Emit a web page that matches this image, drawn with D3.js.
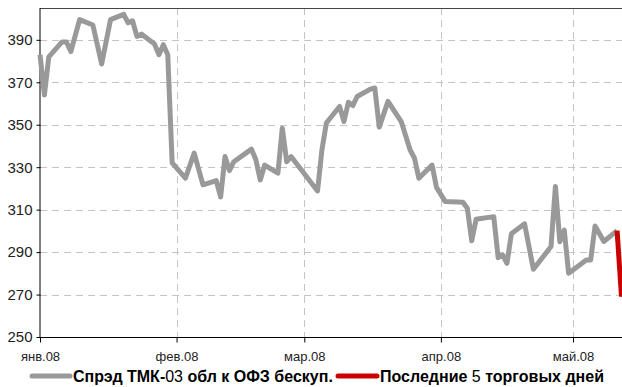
<!DOCTYPE html>
<html><head><meta charset="utf-8">
<script src="https://cdn.jsdelivr.net/npm/d3@7"></script>
<style>
body{margin:0;background:#fff;}
svg{display:block;}
text{font-family:"Liberation Sans Narrow","Arial Narrow","Liberation Sans",sans-serif;}
</style></head>
<body>
<svg id="chart" width="622" height="387"></svg>
<script>
const spreadDates = ["2008-01-01","2008-01-02","2008-01-03","2008-01-06","2008-01-07","2008-01-08","2008-01-10","2008-01-13","2008-01-15","2008-01-17","2008-01-20","2008-01-21","2008-01-22","2008-01-23","2008-01-24","2008-01-27","2008-01-28","2008-01-29","2008-01-30","2008-01-31","2008-02-03","2008-02-05","2008-02-07","2008-02-10","2008-02-11","2008-02-12","2008-02-13","2008-02-14","2008-02-18","2008-02-19","2008-02-20","2008-02-21","2008-02-24","2008-02-25","2008-02-26","2008-02-27","2008-03-04","2008-03-05","2008-03-06","2008-03-09","2008-03-10","2008-03-11","2008-03-12","2008-03-13","2008-03-16","2008-03-17","2008-03-18","2008-03-20","2008-03-23","2008-03-25","2008-03-26","2008-03-27","2008-03-30","2008-03-31","2008-04-02","2008-04-06","2008-04-07","2008-04-08","2008-04-09","2008-04-13","2008-04-14","2008-04-15","2008-04-16","2008-04-17","2008-04-20","2008-04-22","2008-04-26","2008-04-27","2008-04-28","2008-04-29","2008-04-30","2008-05-04","2008-05-05","2008-05-06","2008-05-08","2008-05-11"];
const spreadValues = [383,364,382,389,389,384.5,399.5,397,378.6,399.5,402,398,399,391.6,392.7,388,383,387.7,383,332,324.8,336.6,321.7,323.7,316,335,328.4,332.6,338.5,333.5,324,331,327.2,348.4,332.6,335,318.8,338.2,350.8,358.6,351.5,360.6,359,363.3,366.8,367.3,348.9,361,351.5,338.2,334.3,324.8,331,320.5,313.8,313.5,310.7,295.3,305.5,306.7,287.4,288.7,284.7,298.6,303.3,281.9,292.6,320.9,294.9,300.4,280,286.3,286.3,302.3,295,300.1];
const lastDates = ["2008-05-11","2008-05-12"];
const lastValues = [300.1,269];
const yTicks = [250,270,290,310,330,350,370,390];
const monthTicks = ["2008-01-01","2008-02-01","2008-03-01","2008-04-01","2008-05-01"];
const monthLabels = ["янв.08","фев.08","мар.08","апр.08","май.08"];
const legendLabels = [["Спрэд ТМК-","03"," обл к ОФЗ бескуп."],["Последние ","5"," торговых дней"]];

const parse = d3.utcParse("%Y-%m-%d");
const svg = d3.select("#chart");
const L = 40, R = 622, T = 8, B = 337;
const x = d3.scaleUtc().domain([parse("2008-01-01"), parse("2008-05-12")]).range([L, R - 0.5]);
const y = d3.scaleLinear().domain([250, 405]).range([B, T]);

// grid
const g = svg.append("g");
g.selectAll("line.hg").data(yTicks.filter(v => v !== 250)).join("line")
  .attr("x1", L).attr("x2", R).attr("y1", d => Math.round(y(d)) + 0.5).attr("y2", d => Math.round(y(d)) + 0.5)
  .attr("stroke", "#c4c4c4").attr("stroke-width", 1).attr("stroke-dasharray", "7,5");
g.selectAll("line.vg").data(monthTicks.slice(1)).join("line")
  .attr("x1", d => Math.round(x(parse(d))) + 0.5).attr("x2", d => Math.round(x(parse(d))) + 0.5)
  .attr("y1", T).attr("y2", B)
  .attr("stroke", "#c4c4c4").attr("stroke-width", 1).attr("stroke-dasharray", "7,5");

// top border
svg.append("line").attr("x1", L).attr("x2", R).attr("y1", T + 0.5).attr("y2", T + 0.5)
  .attr("stroke", "#444").attr("stroke-width", 1);

// axes
const yAxis = d3.axisLeft(y).tickValues(yTicks).tickSize(4).tickPadding(4).tickFormat(d3.format("d"));
const ya = svg.append("g").attr("transform", `translate(${L + 0.5},0)`).call(yAxis);
ya.select(".domain").attr("d", `M-0.5,${T}V${B + 0.5}`).attr("stroke", "#000");
ya.selectAll("text").attr("font-size", 15).attr("fill", "#222").attr("font-family", '"Liberation Sans Narrow",sans-serif');

const xAxis = d3.axisBottom(x).tickValues(monthTicks.map(parse)).tickSize(5).tickPadding(9)
  .tickFormat((d, i) => monthLabels[i]);
const xa = svg.append("g").attr("transform", `translate(0,${B + 0.5})`).call(xAxis);
xa.select(".domain").attr("d", `M${L},0H${R}`).attr("stroke", "#000");
xa.selectAll("text").attr("font-size", 13).attr("fill", "#222").attr("font-family", '"Liberation Sans Narrow",sans-serif');

// lines
const line = d3.line().x(d => x(d[0])).y(d => y(d[1]));
const spread = spreadDates.map((d, i) => [parse(d), spreadValues[i]]);
const last = lastDates.map((d, i) => [parse(d), lastValues[i]]);
svg.append("path").datum(spread).attr("d", line).attr("fill", "none")
  .attr("stroke", "#999999").attr("stroke-width", 5).attr("stroke-linejoin", "round");
svg.append("path").datum(last).attr("d", line).attr("fill", "none")
  .attr("stroke", "#cc0000").attr("stroke-width", 5).attr("stroke-linejoin", "round");

// legend
const leg = [{x1: 32, x2: 70, tx: 73, color: "#999999", parts: legendLabels[0]},
             {x1: 338, x2: 377, tx: 380, color: "#cc0000", parts: legendLabels[1]}];
leg.forEach(l => {
  svg.append("line").attr("x1", l.x1).attr("x2", l.x2).attr("y1", 376).attr("y2", 376)
    .attr("stroke", l.color).attr("stroke-width", 5).attr("stroke-linecap", "round");
  const t = svg.append("text").attr("x", l.tx).attr("y", 382).attr("font-size", 16).attr("fill", "#000");
  l.parts.forEach((p, i) => t.append("tspan").text(p).attr("font-weight", i === 1 ? "normal" : "bold"));
});
</script>
</body></html>
